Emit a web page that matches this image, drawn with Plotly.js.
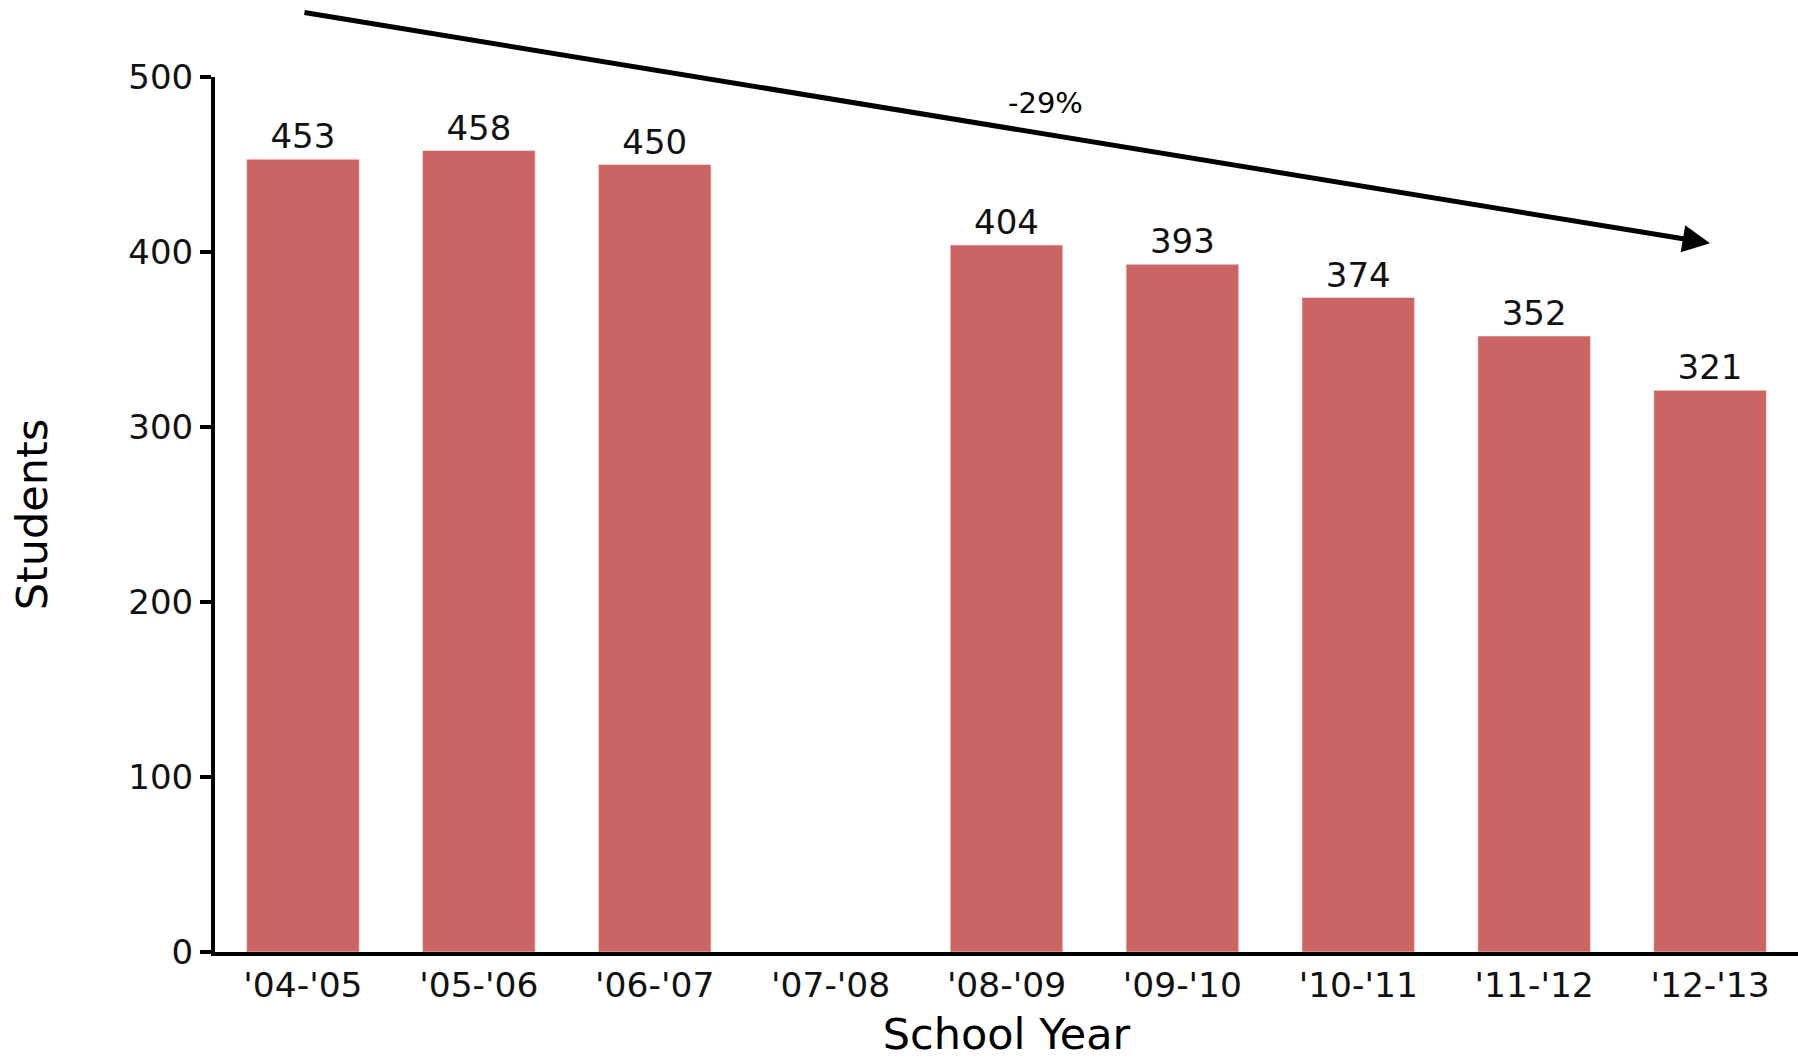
<!DOCTYPE html>
<html>
<head>
<meta charset="utf-8">
<script src="https://cdn.plot.ly/plotly-3.0.1.min.js"></script>
<style>html,body{margin:0;padding:0;background:#fff;}#chart{width:1798px;height:1059px;}</style>
</head>
<body>
<div id="chart"></div>
<script>
const schoolYears = ["'04-'05", "'05-'06", "'06-'07", "'07-'08", "'08-'09", "'09-'10", "'10-'11", "'11-'12", "'12-'13"];
const students = [453, 458, 450, null, 404, 393, 374, 352, 321];
const yTicks = [0, 100, 200, 300, 400, 500];

const FONT = "DejaVu Sans, Verdana, sans-serif";
const firstIdx = 0, lastIdx = students.length - 1;
const firstVal = students[firstIdx], lastVal = students[lastIdx];
const pct = Math.round((lastVal - firstVal) / firstVal * 100);
const arrowLift = 84;

const trace = {
  type: 'bar',
  x: schoolYears,
  y: students,
  width: 0.64,
  marker: {color: 'rgb(203,100,100)', line: {color: 'rgba(255,230,230,0.6)', width: 1}},
  text: students.map(v => v == null ? '' : String(v)),
  textposition: 'outside',
  textfont: {family: FONT, size: 34, color: '#111'},
  cliponaxis: false,
  hoverinfo: 'x+y'
};

const layout = {
  width: 1798, height: 1059,
  margin: {l: 215, r: 0, t: 77, b: 107},
  paper_bgcolor: '#fff', plot_bgcolor: '#fff',
  showlegend: false,
  font: {family: FONT, color: '#000'},
  xaxis: {
    type: 'category',
    range: [-0.5, schoolYears.length - 0.5],
    showline: true, linecolor: '#000', linewidth: 4,
    ticks: '', showgrid: false, zeroline: false,
    tickfont: {family: FONT, size: 34.5, color: '#111'},
    title: {text: 'School Year', font: {family: FONT, size: 43, color: '#000'}, standoff: 16}
  },
  yaxis: {
    range: [0, 500],
    tickvals: yTicks,
    showline: true, linecolor: '#000', linewidth: 4,
    ticks: 'outside', ticklen: 11, tickwidth: 4, tickcolor: '#000',
    showgrid: false, zeroline: false,
    tickfont: {family: FONT, size: 34, color: '#111'},
    title: {text: 'Students', font: {family: FONT, size: 43, color: '#000'}, standoff: 68}
  },
  annotations: [
    {
      x: schoolYears[lastIdx], y: lastVal + arrowLift, xref: 'x', yref: 'y',
      ax: schoolYears[firstIdx], ay: firstVal + arrowLift, axref: 'x', ayref: 'y',
      showarrow: true, arrowhead: 2, arrowsize: 1.1, arrowwidth: 5, arrowcolor: '#000',
      text: ''
    },
    {
      x: 4.22, y: 485, xref: 'x', yref: 'y',
      text: pct + '%', showarrow: false,
      font: {family: FONT, size: 29, color: '#000'}
    }
  ]
};

Plotly.newPlot('chart', [trace], layout, {displayModeBar: false, staticPlot: true});
</script>
</body>
</html>
